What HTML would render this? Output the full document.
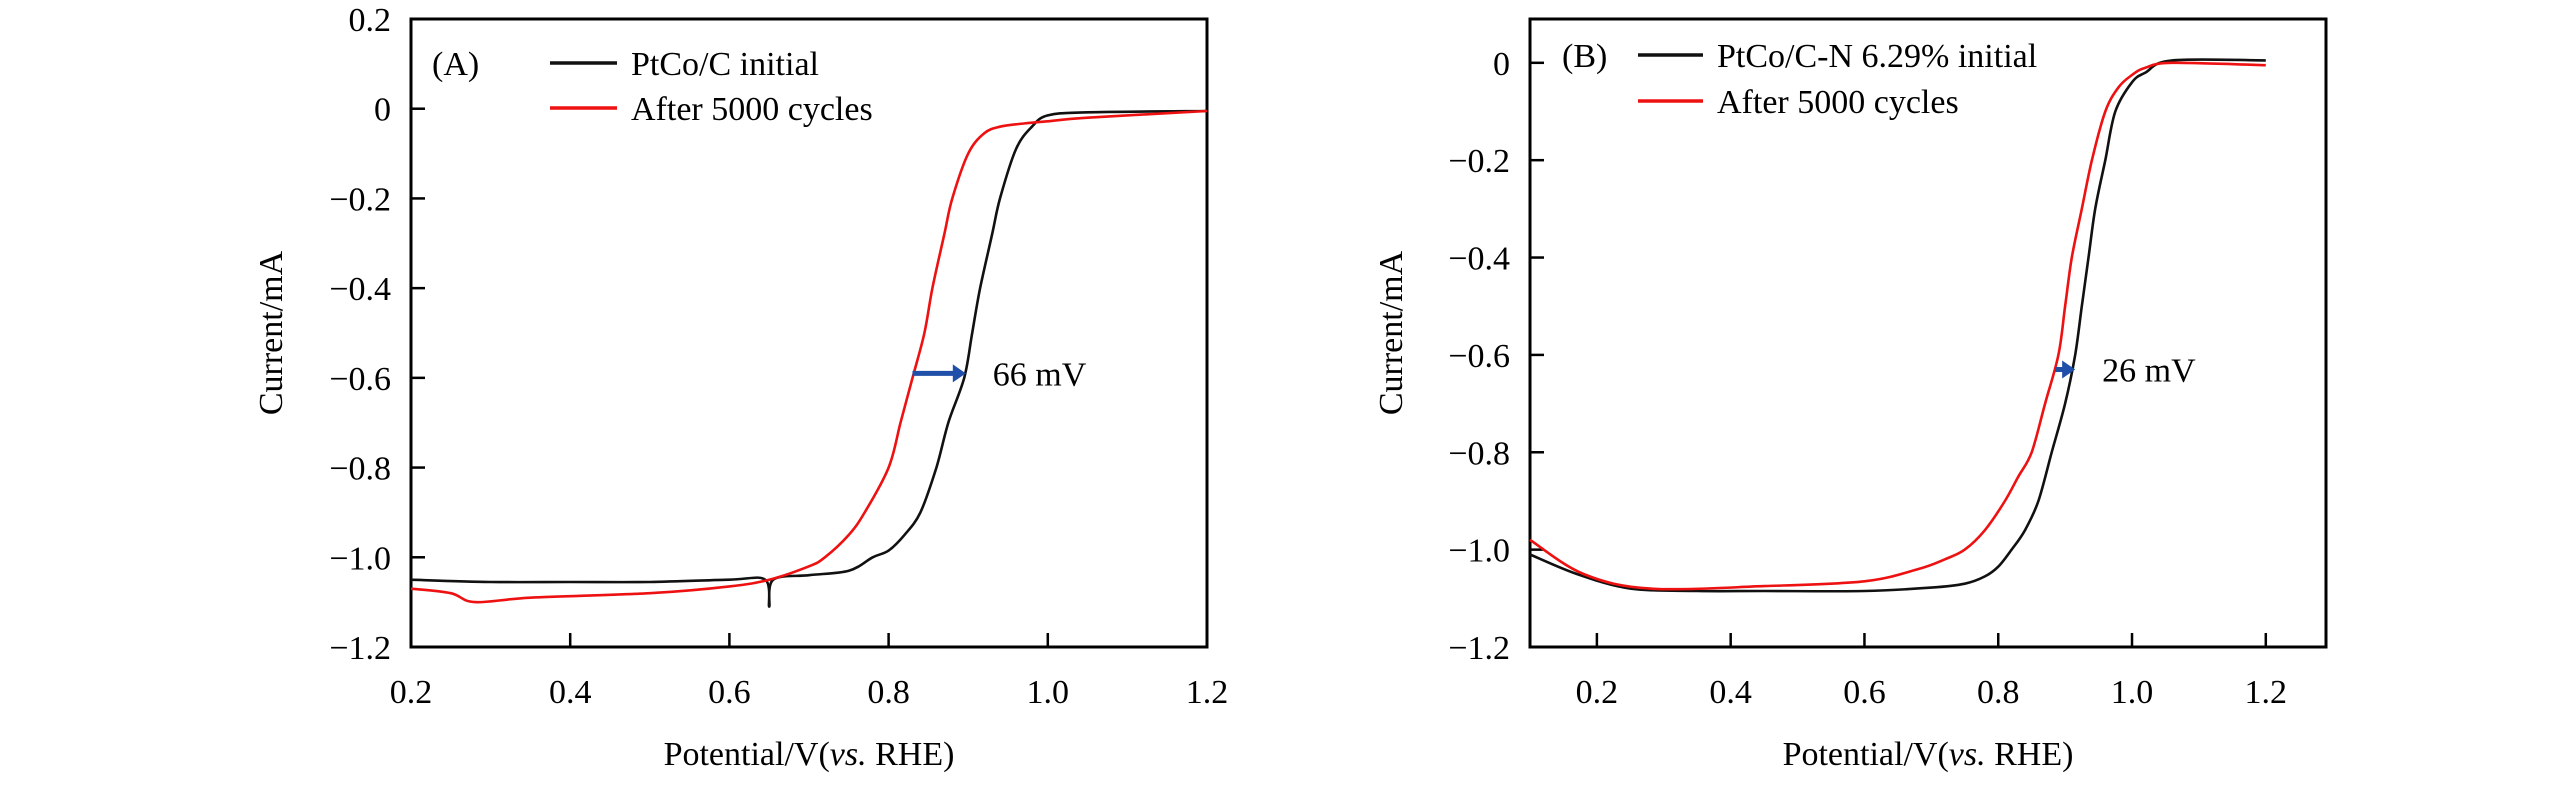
<!DOCTYPE html>
<html><head><meta charset="utf-8"><style>
html,body{margin:0;padding:0;background:#fff;}
svg{display:block;font-family:"Liberation Serif",serif;}
</style></head><body>
<svg id="chart" width="2567" height="787" viewBox="0 0 2567 787"></svg>
<script>
// Panel A data
const aBlackX=[0.2,0.3,0.4,0.5,0.6,0.645,0.65,0.655,0.7,0.75,0.78,0.8,0.82,0.84,0.86,0.875,0.895,0.905,0.915,0.93,0.94,0.96,0.98,1.0,1.05,1.2];
const aBlackY=[-1.05,-1.055,-1.055,-1.055,-1.05,-1.05,-1.11,-1.05,-1.04,-1.03,-1.0,-0.985,-0.95,-0.9,-0.8,-0.7,-0.6,-0.5,-0.4,-0.28,-0.2,-0.09,-0.04,-0.015,-0.008,-0.005];
const aRedX=[0.2,0.25,0.28,0.35,0.5,0.6,0.65,0.7,0.72,0.75,0.77,0.8,0.815,0.83,0.845,0.855,0.87,0.88,0.9,0.92,0.94,0.97,1.0,1.05,1.2];
const aRedY=[-1.07,-1.08,-1.1,-1.09,-1.08,-1.065,-1.05,-1.02,-1.0,-0.95,-0.9,-0.8,-0.7,-0.6,-0.5,-0.4,-0.28,-0.2,-0.1,-0.055,-0.04,-0.033,-0.028,-0.02,-0.005];
// Panel B data
const bBlackX=[0.1,0.17,0.25,0.35,0.45,0.6,0.7,0.75,0.78,0.8,0.82,0.84,0.86,0.88,0.9,0.915,0.925,0.935,0.945,0.96,0.975,1.0,1.02,1.06,1.2];
const bBlackY=[-1.01,-1.05,-1.08,-1.085,-1.085,-1.085,-1.078,-1.07,-1.055,-1.035,-1.0,-0.96,-0.9,-0.8,-0.7,-0.6,-0.5,-0.4,-0.3,-0.2,-0.1,-0.04,-0.02,0.005,0.005];
const bRedX=[0.1,0.18,0.28,0.45,0.6,0.68,0.72,0.75,0.78,0.81,0.83,0.85,0.87,0.89,0.9,0.91,0.925,0.94,0.96,0.98,1.0,1.02,1.06,1.2];
const bRedY=[-0.98,-1.05,-1.08,-1.075,-1.065,-1.04,-1.02,-1.0,-0.96,-0.9,-0.85,-0.8,-0.7,-0.6,-0.5,-0.4,-0.3,-0.2,-0.1,-0.05,-0.025,-0.01,0,-0.005];
const aXTicks=[0.2,0.4,0.6,0.8,1.0,1.2];
const aYTicks=[0.2,0,-0.2,-0.4,-0.6,-0.8,-1.0,-1.2];
const bXTicks=[0.2,0.4,0.6,0.8,1.0,1.2];
const bYTicks=[0,-0.2,-0.4,-0.6,-0.8,-1.0,-1.2];

const NS="http://www.w3.org/2000/svg";
const svg=document.getElementById('chart');
function mk(tag,attrs,parent,text){const e=document.createElementNS(NS,tag);for(const k in attrs)e.setAttribute(k,attrs[k]);if(text!==undefined)e.textContent=text;(parent||svg).appendChild(e);return e;}
function fmt(v){if(v===0)return '0';let s=Math.abs(v).toFixed(1);return (v<0?'\u2212':'')+s;}
function smooth(pts){
  let d='M'+pts[0][0].toFixed(1)+','+pts[0][1].toFixed(1);
  for(let i=0;i<pts.length-1;i++){
    const p0=pts[Math.max(0,i-1)],p1=pts[i],p2=pts[i+1],p3=pts[Math.min(pts.length-1,i+2)];
    const c1=[p1[0]+(p2[0]-p0[0])/6,p1[1]+(p2[1]-p0[1])/6];
    const c2=[p2[0]-(p3[0]-p1[0])/6,p2[1]-(p3[1]-p1[1])/6];
    d+=` C${c1[0].toFixed(1)},${c1[1].toFixed(1)} ${c2[0].toFixed(1)},${c2[1].toFixed(1)} ${p2[0].toFixed(1)},${p2[1].toFixed(1)}`;
  }
  return d;
}

function panel(p){
  const g=mk('g',{});
  
  
  const sx=v=>p.L+(v-p.x0)/(p.x1-p.x0)*(p.R-p.L);
  const sy=v=>p.T+(p.y1-v)/(p.y1-p.y0)*(p.B-p.T);
  const box=mk('rect',{x:p.L,y:p.T,width:p.R-p.L,height:p.B-p.T,fill:'none',stroke:'#000','stroke-width':3},g);
  
  
  p.xt.forEach(v=>{
    const x=sx(v);
    const t=mk('line',{x1:x,x2:x,y1:p.B,y2:p.B-14,stroke:'#000','stroke-width':2.5},g);
    
    
    const l=mk('text',{x:x,y:p.B+56,'font-size':34,'text-anchor':'middle'},g,v.toFixed(1));
    
    
  });
  p.yt.forEach(v=>{
    const y=sy(v);
    const t=mk('line',{x1:p.L,x2:p.L+14,y1:y,y2:y,stroke:'#000','stroke-width':2.5},g);
    
    
    const l=mk('text',{x:p.L-20,y:y+12,'font-size':34,'text-anchor':'end'},g,fmt(v));
    
    
  });
  const xl=mk('text',{x:(p.L+p.R)/2,y:765,'font-size':34,'text-anchor':'middle'},g);
  
  
  xl.innerHTML='Potential/V(<tspan font-style="italic">vs.</tspan> RHE)';
  const yl=mk('text',{x:0,y:0,'font-size':34,'text-anchor':'middle',transform:`translate(${p.yLabX},${(p.T+p.B)/2}) rotate(-90)`},g,'Current/mA');
  
  
  p.series.forEach(s=>{
    const pts=s.x.map((v,i)=>[sx(v),sy(s.y[i])]);
    const path=mk('path',{d:smooth(pts),fill:'none',stroke:s.color,'stroke-width':2.6,'stroke-linejoin':'round'},g);
    
    
  });
  const pl=mk('text',{x:p.labX,y:p.leg1Y+12,'font-size':34},g,p.label);
  
  
  p.series.forEach((s,i)=>{
    const y=i?p.leg2Y:p.leg1Y;
    const ln=mk('line',{x1:p.legX1,x2:p.legX2,y1:y,y2:y,stroke:s.color,'stroke-width':3.5},g);
    
    
    const tx=mk('text',{x:p.legTX,y:y+12,'font-size':34},g,s.label);
    
    
  });
  const ay=sy(p.arrowY);
  const ar=mk('line',{x1:sx(p.arrowX0),x2:sx(p.arrowX1)-10,y1:ay,y2:ay,stroke:'#1f4fa8','stroke-width':5},g);
  
  
  const x1=sx(p.arrowX1);
  const ah=mk('polygon',{points:`${x1},${ay} ${x1-13},${ay-9} ${x1-13},${ay+9}`,fill:'#1f4fa8'},g);
  
  
  const at=mk('text',{x:x1+27,y:ay+12,'font-size':34},g,p.anno);
  
  
}

panel({name:'panel-a',L:411,R:1207,T:19,B:647,x0:0.2,x1:1.2,y0:-1.2,y1:0.2,xt:aXTicks,yt:aYTicks,yLabX:282,
  series:[{x:aBlackX,y:aBlackY,color:'#111',name:'line-ptco-c-initial',label:'PtCo/C initial'},
          {x:aRedX,y:aRedY,color:'#ee1111',name:'line-ptco-c-after',label:'After 5000 cycles'}],
  label:'(A)',labX:432,leg1Y:63,leg2Y:108,legX1:550,legX2:617,legTX:631,
  arrowX0:0.83,arrowX1:0.897,arrowY:-0.59,anno:'66 mV'});
panel({name:'panel-b',L:1530,R:2326,T:19,B:647,x0:0.1,x1:1.29,y0:-1.2,y1:0.09,xt:bXTicks,yt:bYTicks,yLabX:1402,
  series:[{x:bBlackX,y:bBlackY,color:'#111',name:'line-ptco-cn-initial',label:'PtCo/C-N 6.29% initial'},
          {x:bRedX,y:bRedY,color:'#ee1111',name:'line-ptco-cn-after',label:'After 5000 cycles'}],
  label:'(B)',labX:1562,leg1Y:55,leg2Y:101,legX1:1638,legX2:1703,legTX:1717,
  arrowX0:0.885,arrowX1:0.915,arrowY:-0.63,anno:'26 mV'});
</script>
</body></html>
